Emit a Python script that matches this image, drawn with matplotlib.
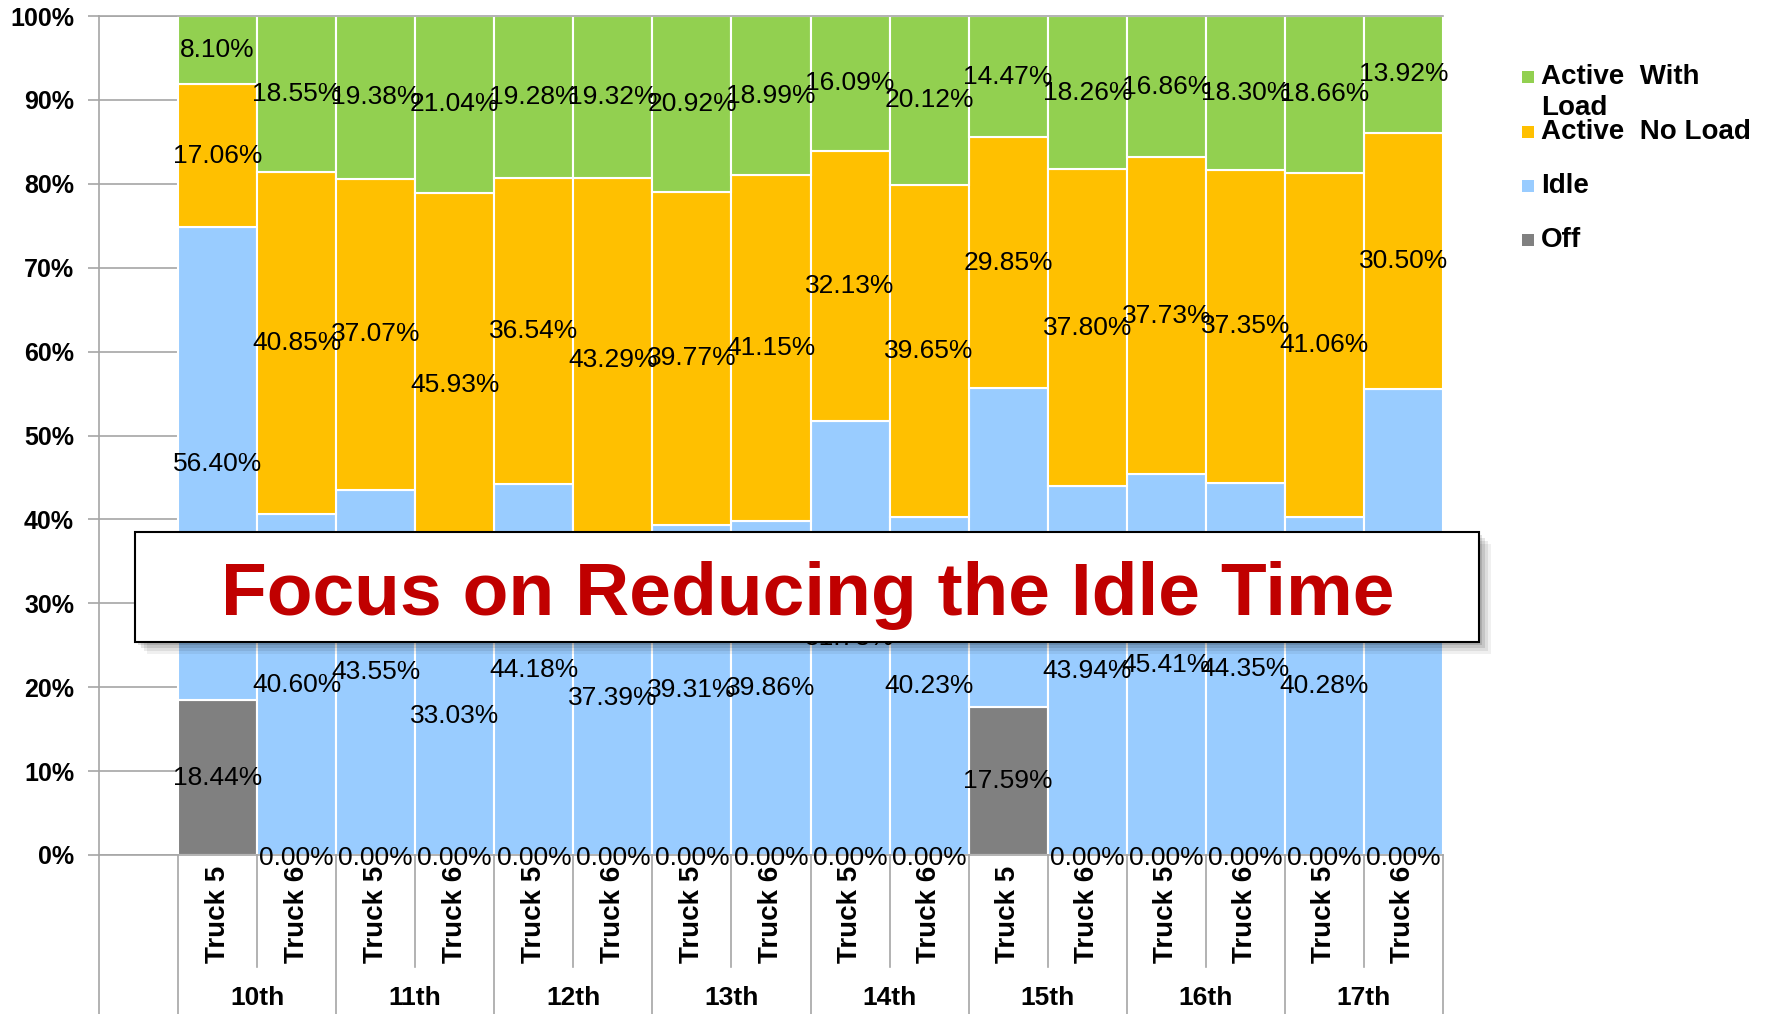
import matplotlib.pyplot as plt
from matplotlib.patches import Rectangle
import numpy as np

plt.rcParams['font.family'] = ['Liberation Sans', 'DejaVu Sans']

# data (percent of the day)
dates = ['10th', '11th', '12th', '13th', '14th', '15th', '16th', '17th']
trucks = ['Truck 5', 'Truck 6']
off = [18.44, 0.00, 0.00, 0.00, 0.00, 0.00, 0.00, 0.00,
       0.00, 0.00, 17.59, 0.00, 0.00, 0.00, 0.00, 0.00]
idle = [56.40, 40.60, 43.55, 33.03, 44.18, 37.39, 39.31, 39.86,
        51.78, 40.23, 38.09, 43.94, 45.41, 44.35, 40.28, 55.58]
no_load = [17.06, 40.85, 37.07, 45.93, 36.54, 43.29, 39.77, 41.15,
           32.13, 39.65, 29.85, 37.80, 37.73, 37.35, 41.06, 30.50]
with_load = [8.10, 18.55, 19.38, 21.04, 19.28, 19.32, 20.92, 18.99,
             16.09, 20.12, 14.47, 18.26, 16.86, 18.30, 18.66, 13.92]

series = [
    ('Off', off, '#808080'),
    ('Idle', idle, '#99CCFF'),
    ('Active  No Load', no_load, '#FFC000'),
    ('Active  With\nLoad', with_load, '#92D050'),
]

fig = plt.figure(figsize=(17.68, 10.14), dpi=100)
ax = fig.add_axes([99 / 1768, 1 - 855 / 1014, (1443 - 99) / 1768, (855 - 16) / 1014])

x = np.arange(len(off))
bottom = np.zeros(len(off))
for name, vals, col in series:
    vals = np.asarray(vals)
    ax.bar(x, vals, width=1.0, bottom=bottom, color=col, edgecolor='white',
           linewidth=1.5, zorder=2)
    for xi, b, v in zip(x, bottom, vals):
        ax.text(xi, b + v / 2 - (0.3 if v == 0 else 0), f'{v:.2f}%', ha='center',
                va='center', fontsize=19, zorder=4)
    bottom = bottom + vals

ax.set_xlim(-1.5, len(off) - 0.5)
ax.set_ylim(0, 100)
ax.set_yticks(np.arange(0, 101, 10))
ax.set_yticklabels([f'{v}%' for v in range(0, 101, 10)], fontsize=18,
                   fontweight='bold')
ax.yaxis.grid(True, color='#A6A6A6', linewidth=1.2, zorder=0)
ax.set_axisbelow(True)
ax.tick_params(axis='y', length=8, width=1.2, color='#A6A6A6', pad=10)

ax.set_xticks(x)
ax.set_xticklabels(trucks * len(dates), rotation=90, fontsize=20,
                   fontweight='bold')
ax.tick_params(axis='x', length=0, pad=8)

for s in ['left', 'bottom', 'top']:
    ax.spines[s].set_color('#A6A6A6')
    ax.spines[s].set_linewidth(1.2)
ax.spines['right'].set_visible(False)

# category separators below the axis
trans = ax.get_xaxis_transform()
ax.plot([-1.5, -1.5], [0, -0.19], color='#A6A6A6', lw=1.2, transform=trans, clip_on=False)
for i in range(len(off) + 1):
    xb = i - 0.5
    y_end = -0.19 if i % 2 == 0 else -0.133
    ax.plot([xb, xb], [0, y_end], color='#A6A6A6', lw=1.2, transform=trans, clip_on=False)
for j, d in enumerate(dates):
    ax.text(2 * j + 0.5, -0.170, d, transform=trans, ha='center', va='center',
            fontsize=19, fontweight='bold')

# legend drawn by hand, top entry first
legend_rows = [77, 132, 186, 240]
for (name, vals, col), yrow in zip(series[::-1], legend_rows):
    fig.patches.append(Rectangle((1522 / 1768, 1 - (yrow + 6) / 1014), 12 / 1768, 12 / 1014,
                                 transform=fig.transFigure, facecolor=col, edgecolor='none'))
    for k, line in enumerate(name.split('\n')):
        fig.text(1541 / 1768, 1 - (yrow + 31 * k) / 1014, line, ha='left', va='center',
                 fontsize=20, fontweight='bold')

# banner on top of the chart
bx0, bx1, by0, by1 = 135, 1479, 532, 642
for k, a in enumerate([0.06, 0.08, 0.10, 0.12]):
    off_px = 12 - 3 * k
    fig.patches.append(Rectangle(((bx0 + off_px) / 1768, 1 - (by1 + off_px) / 1014),
                                 (bx1 - bx0) / 1768, (by1 - by0) / 1014,
                                 transform=fig.transFigure, facecolor='black',
                                 edgecolor='none', alpha=a, zorder=5))
fig.patches.append(Rectangle((bx0 / 1768, 1 - by1 / 1014), (bx1 - bx0) / 1768, (by1 - by0) / 1014,
                             transform=fig.transFigure, facecolor='white',
                             edgecolor='black', linewidth=1.5, zorder=6))
fig.text(808 / 1768, 1 - 615 / 1014, 'Focus on Reducing the Idle Time', ha='center',
         va='baseline', fontsize=54, fontweight='bold', color='#C00000', zorder=7)

fig.savefig('out.png', dpi=100)
